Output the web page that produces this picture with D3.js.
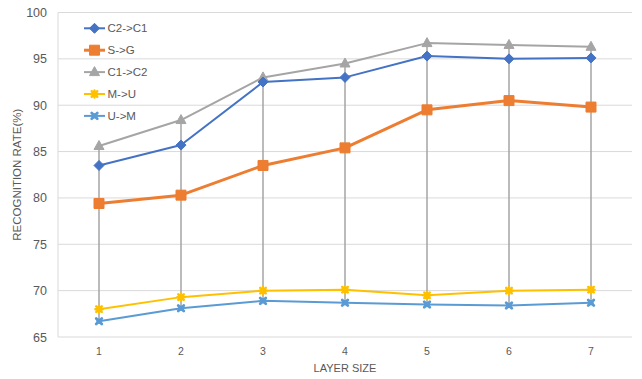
<!DOCTYPE html>
<html><head><meta charset="utf-8">
<script src="https://cdn.jsdelivr.net/npm/d3@7"></script>
<style>body{margin:0;background:#fff}svg{display:block}text{font-family:"Liberation Sans",Arial,sans-serif}</style>
</head><body><svg id="c" width="642" height="379"></svg>
<script>
const categories = ["1","2","3","4","5","6","7"];
const seriesNames = ["C2->C1","S->G","C1->C2","M->U","U->M"];
const c2c1 = [83.5,85.7,92.5,93.0,95.3,95.0,95.1];
const s2g  = [79.4,80.3,83.5,85.4,89.5,90.5,89.8];
const c1c2 = [85.6,88.4,93.0,94.5,96.7,96.5,96.3];
const m2u  = [68.0,69.3,70.0,70.1,69.5,70.0,70.1];
const u2m  = [66.7,68.1,68.9,68.7,68.5,68.4,68.7];
const yTicks = [65,70,75,80,85,90,95,100];

const series = [
  {name:seriesNames[0], values:c2c1, color:"#4472c4", w:2, marker:"diamond"},
  {name:seriesNames[1], values:s2g,  color:"#ed7d31", w:3, marker:"square"},
  {name:seriesNames[2], values:c1c2, color:"#a5a5a5", w:2, marker:"triangle"},
  {name:seriesNames[3], values:m2u,  color:"#ffc000", w:2, marker:"star"},
  {name:seriesNames[4], values:u2m,  color:"#5b9bd5", w:2, marker:"x"}
];

const svg = d3.select("#c");
const L=58, R=632, T=12.5, B=337;
const x = d3.scaleBand().domain(categories).range([L,R]);
const y = d3.scaleLinear().domain([65,100]).range([B,T]);
const cx = d => x(d)+x.bandwidth()/2;

svg.append("g").selectAll("line").data(yTicks).join("line")
  .attr("x1",L).attr("x2",R).attr("y1",d=>y(d)).attr("y2",d=>y(d))
  .attr("stroke","#d9d9d9").attr("stroke-width",1);
svg.append("line").attr("x1",L).attr("x2",L).attr("y1",T).attr("y2",B).attr("stroke","#d9d9d9");

const ya = svg.append("g").attr("transform",`translate(${L},0)`)
  .call(d3.axisLeft(y).tickValues(yTicks).tickSize(0).tickPadding(11));
ya.select(".domain").remove();
ya.selectAll("text").attr("fill","#595959").style("font-size","12.5px");

const xa = svg.append("g").attr("transform",`translate(0,${B})`)
  .call(d3.axisBottom(x).tickSize(0).tickPadding(11));
xa.select(".domain").remove();
xa.selectAll("text").attr("fill","#595959").style("font-size","10.5px");

svg.append("text").attr("x",(L+R)/2).attr("y",372).attr("text-anchor","middle")
  .attr("fill","#595959").style("font-size","11px").text("LAYER SIZE");
svg.append("text").attr("transform",`translate(21,${(T+B)/2}) rotate(-90)`).attr("text-anchor","middle")
  .attr("fill","#595959").style("font-size","11.5px").text("RECOGNITION RATE(%)");

svg.append("g").selectAll("line").data(categories).join("line")
  .attr("x1",cx).attr("x2",cx)
  .attr("y1",(d,i)=>y(d3.max(series,s=>s.values[i])))
  .attr("y2",(d,i)=>y(d3.min(series,s=>s.values[i])))
  .attr("stroke","#a5a5a5").attr("stroke-width",1.5);

function markerPath(type){
  switch(type){
    case "diamond": return "M0,-5L5,0L0,5L-5,0Z";
    case "square": return "M-5,-5H5V5H-5Z";
    case "triangle": return "M0,-5.5L5,3.5H-5Z";
    default: return null;
  }
}
function drawMarker(g,type,color,px,py){
  const gg = g.append("g").attr("transform",`translate(${px},${py})`);
  if(type==="star"){
    gg.append("path").attr("d","M-2.8,-2.8L2.8,2.8M-2.8,2.8L2.8,-2.8M0,-3.6V3.6M-3.6,0H3.6")
      .attr("stroke",color).attr("stroke-width",2.4).attr("stroke-linecap","round");
    gg.append("circle").attr("r",2.6).attr("fill",color);
  } else if(type==="x"){
    gg.append("path").attr("d","M-2.8,-2.8L2.8,2.8M-2.8,2.8L2.8,-2.8")
      .attr("stroke",color).attr("stroke-width",2.8).attr("stroke-linecap","round");
    gg.append("rect").attr("x",-2.6).attr("y",-2.6).attr("width",5.2).attr("height",5.2).attr("fill",color);
  } else {
    gg.append("path").attr("d",markerPath(type)).attr("fill",color).attr("stroke",color).attr("stroke-width",1)
      .attr("stroke-linejoin","round");
  }
}

const line = d3.line().x((d,i)=>cx(categories[i])).y(d=>y(d));
[4,3,2,1,0].forEach(k=>{
  const s = series[k];
  const g = svg.append("g");
  g.append("path").attr("d",line(s.values)).attr("fill","none")
    .attr("stroke",s.color).attr("stroke-width",s.w).attr("stroke-linejoin","round");
  s.values.forEach((v,i)=>drawMarker(g,s.marker,s.color,cx(categories[i]),y(v)));
});

const lg = svg.append("g");
series.forEach((s,i)=>{
  const ly = 28.3 + i*21.9;
  lg.append("line").attr("x1",84).attr("x2",105).attr("y1",ly).attr("y2",ly)
    .attr("stroke",s.color).attr("stroke-width",s.w);
  drawMarker(lg,s.marker,s.color,94.5,ly);
  lg.append("text").attr("x",107.5).attr("y",ly+4).attr("fill","#595959")
    .style("font-size","11.5px").text(s.name);
});
</script></body></html>
